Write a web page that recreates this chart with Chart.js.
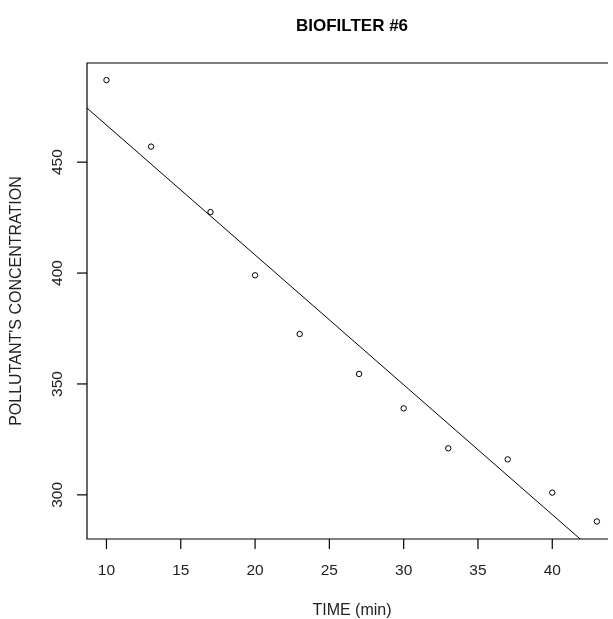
<!DOCTYPE html>
<html>
<head>
<meta charset="utf-8">
<script src="https://cdn.jsdelivr.net/npm/chart.js@4"></script>
<style>
  body { margin: 0; background: #fff; overflow: hidden; }
  #wrap { width: 613px; height: 619px; }
</style>
</head>
<body>
<div id="wrap"><canvas id="graph1"></canvas></div>
<script>
// data
const times = [10, 13, 17, 20, 23, 27, 30, 33, 37, 40, 43];
const concentration = [487, 457, 427.5, 399, 372.5, 354.5, 339, 321, 316, 301, 288];
const xTicks = [10, 15, 20, 25, 30, 35, 40];
const yTicks = [300, 350, 400, 450];

const chartTitle = "BIOFILTER #6";
const xTitle = "TIME (min)";
const yTitle = "POLLUTANT'S CONCENTRATION";

// least squares line (like abline(lm(y ~ x)))
let n = times.length;
let mx = times.reduce((a, b) => a + b, 0) / n;
let my = concentration.reduce((a, b) => a + b, 0) / n;
let sxy = 0, sxx = 0;
times.forEach((t, i) => {
    sxy += (t - mx) * (concentration[i] - my);
    sxx += (t - mx) * (t - mx);
});
let slope = sxy / sxx;
let intercept = my - slope * mx;

const xMin = 8.69, xMax = 43.75;
const yMin = 280.1, yMax = 494.7;

let pts = times.map((t, i) => ({ x: t, y: concentration[i] }));
let fitLine = [xMin, 44.32].map(x => ({ x: x, y: intercept + slope * x }));

const font = "'Liberation Sans', Arial, sans-serif";

const rAxes = {
    id: 'rAxes',
    afterDraw(chart) {
        const ctx = chart.ctx;
        const a = chart.chartArea;
        const xs = chart.scales.x, ys = chart.scales.y;
        ctx.save();
        ctx.strokeStyle = '#000';
        ctx.lineWidth = 1.2;
        ctx.beginPath();
        ctx.moveTo(a.right, a.top);
        ctx.lineTo(a.left, a.top);
        ctx.lineTo(a.left, a.bottom);
        ctx.lineTo(a.right, a.bottom);
        ctx.stroke();

        ctx.fillStyle = '#222';
        ctx.font = '15.5px ' + font;
        ctx.textAlign = 'center';
        ctx.textBaseline = 'middle';
        xTicks.forEach(v => {
            let px = xs.getPixelForValue(v);
            ctx.beginPath();
            ctx.moveTo(px, a.bottom);
            ctx.lineTo(px, a.bottom + 10);
            ctx.stroke();
            ctx.fillText(String(v), px, 571);
        });
        yTicks.forEach(v => {
            let py = ys.getPixelForValue(v);
            ctx.beginPath();
            ctx.moveTo(a.left, py);
            ctx.lineTo(a.left - 10, py);
            ctx.stroke();
            ctx.save();
            ctx.translate(58, py);
            ctx.rotate(-Math.PI / 2);
            ctx.fillText(String(v), 0, 0);
            ctx.restore();
        });

        ctx.font = '16px ' + font;
        ctx.fillText(xTitle, 352, 611);
        ctx.save();
        ctx.translate(17, (a.top + a.bottom) / 2);
        ctx.rotate(-Math.PI / 2);
        ctx.fillText(yTitle, 0, 0);
        ctx.restore();

        ctx.fillStyle = '#000';
        ctx.font = 'bold 17px ' + font;
        ctx.fillText(chartTitle, 352, 26);
        ctx.restore();
    }
};

const ctx = document.getElementById('graph1').getContext('2d');
let myChart = new Chart(ctx, {
    type: 'scatter',
    data: {
        datasets: [{
            label: 'fit',
            data: fitLine,
            showLine: true,
            borderColor: '#000',
            borderWidth: 1,
            pointRadius: 0,
            fill: false
        }, {
            label: 'points',
            data: pts,
            pointStyle: 'circle',
            pointRadius: 2.7,
            borderColor: '#000',
            borderWidth: 1,
            backgroundColor: 'rgba(0,0,0,0)'
        }]
    },
    options: {
        responsive: true,
        maintainAspectRatio: false,
        animation: false,
        layout: { padding: { left: 87, top: 63, right: 0, bottom: 80 } },
        plugins: {
            legend: { display: false },
            tooltip: { enabled: false }
        },
        scales: {
            x: { type: 'linear', min: xMin, max: xMax, display: false },
            y: { type: 'linear', min: yMin, max: yMax, display: false }
        }
    },
    plugins: [rAxes]
});
</script>
</body>
</html>
